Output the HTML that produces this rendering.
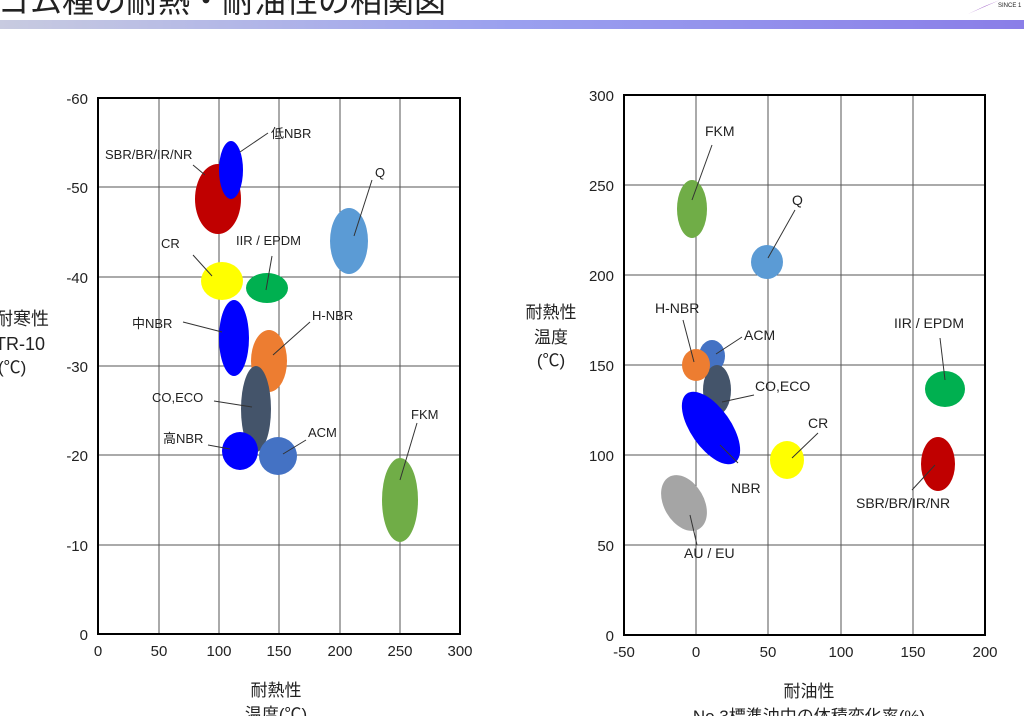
<!DOCTYPE html>
<html><head><meta charset="utf-8"><style>
body{margin:0;width:1024px;height:716px;overflow:hidden;background:#fff}
svg{display:block}
text{font-family:"Liberation Sans","Noto Sans CJK JP",sans-serif;fill:#222}
</style></head><body>
<svg width="1024" height="716" viewBox="0 0 1024 716">
<defs><linearGradient id="g" x1="0" x2="1"><stop offset="0" stop-color="#c8cbe0"/><stop offset="0.5" stop-color="#9aa0ef"/><stop offset="1" stop-color="#8a7ee8"/></linearGradient></defs>
<text x="-2" y="12" font-size="32">ゴム種の耐熱・耐油性の相関図</text>
<rect x="0" y="20" width="1024" height="9" fill="url(#g)"/>
<path d="M968 14 L1000 0 L985 6Z" fill="#a060c8"/>
<text x="998" y="7" font-size="6">SINCE 1</text>

<!-- left chart -->
<g stroke="#555" stroke-width="1">
<line x1="159" y1="98" x2="159" y2="634"/><line x1="219" y1="98" x2="219" y2="634"/><line x1="279" y1="98" x2="279" y2="634"/><line x1="340" y1="98" x2="340" y2="634"/><line x1="400" y1="98" x2="400" y2="634"/>
<line x1="98" y1="187" x2="460" y2="187"/><line x1="98" y1="277" x2="460" y2="277"/><line x1="98" y1="366" x2="460" y2="366"/><line x1="98" y1="455" x2="460" y2="455"/><line x1="98" y1="545" x2="460" y2="545"/>
</g>
<rect x="98" y="98" width="362" height="536" fill="none" stroke="#000" stroke-width="2"/>
<g font-size="15" text-anchor="end">
<text x="88" y="104">-60</text><text x="88" y="193">-50</text><text x="88" y="283">-40</text><text x="88" y="372">-30</text><text x="88" y="461">-20</text><text x="88" y="551">-10</text><text x="88" y="640">0</text>
</g>
<g font-size="15" text-anchor="middle">
<text x="98" y="656">0</text><text x="159" y="656">50</text><text x="219" y="656">100</text><text x="279" y="656">150</text><text x="340" y="656">200</text><text x="400" y="656">250</text><text x="460" y="656">300</text>
<text x="276" y="696" font-size="17">耐熱性</text><text x="276" y="720" font-size="17">温度(℃)</text>
</g>
<text x="-5" y="325" font-size="18">耐寒性</text><text x="-5" y="350" font-size="18">TR-10</text><text x="-2" y="373" font-size="17">(℃)</text>

<ellipse cx="218" cy="199" rx="23" ry="35" fill="#c00000"/>
<ellipse cx="231" cy="170" rx="12" ry="29" fill="#0000ff"/>
<ellipse cx="349" cy="241" rx="19" ry="33" fill="#5b9bd5"/>
<ellipse cx="222" cy="281" rx="21" ry="19" fill="#ffff00"/>
<ellipse cx="267" cy="288" rx="21" ry="15" fill="#00b050"/>
<ellipse cx="234" cy="338" rx="15" ry="38" fill="#0000ff"/>
<ellipse cx="269" cy="361" rx="18" ry="31" fill="#ed7d31"/>
<ellipse cx="256" cy="409" rx="15" ry="43" fill="#44546a"/>
<ellipse cx="240" cy="451" rx="18" ry="19" fill="#0000ff"/>
<ellipse cx="278" cy="456" rx="19" ry="19" fill="#4472c4"/>
<ellipse cx="400" cy="500" rx="18" ry="42" fill="#70ad47"/>
<g stroke="#333" stroke-width="1">
<line x1="240" y1="152" x2="268" y2="133"/><line x1="193" y1="165" x2="205" y2="175"/><line x1="372" y1="180" x2="354" y2="236"/><line x1="193" y1="255" x2="212" y2="276"/><line x1="272" y1="256" x2="266" y2="290"/><line x1="183" y1="322" x2="222" y2="332"/><line x1="310" y1="322" x2="273" y2="355"/><line x1="214" y1="401" x2="252" y2="407"/><line x1="208" y1="445" x2="230" y2="449"/><line x1="306" y1="440" x2="283" y2="454"/><line x1="417" y1="423" x2="400" y2="480"/>
</g>
<g font-size="13">
<text x="271" y="138">低NBR</text><text x="105" y="159">SBR/BR/IR/NR</text><text x="375" y="177">Q</text><text x="161" y="248">CR</text><text x="236" y="245">IIR / EPDM</text><text x="132" y="328">中NBR</text><text x="312" y="320">H-NBR</text><text x="152" y="402">CO,ECO</text><text x="163" y="443">高NBR</text><text x="308" y="437">ACM</text><text x="411" y="419">FKM</text>
</g>

<!-- right chart -->
<g stroke="#555" stroke-width="1">
<line x1="696" y1="95" x2="696" y2="635"/><line x1="768" y1="95" x2="768" y2="635"/><line x1="841" y1="95" x2="841" y2="635"/><line x1="913" y1="95" x2="913" y2="635"/>
<line x1="624" y1="185" x2="985" y2="185"/><line x1="624" y1="275" x2="985" y2="275"/><line x1="624" y1="365" x2="985" y2="365"/><line x1="624" y1="455" x2="985" y2="455"/><line x1="624" y1="545" x2="985" y2="545"/>
</g>
<rect x="624" y="95" width="361" height="540" fill="none" stroke="#000" stroke-width="2"/>
<g font-size="15" text-anchor="end">
<text x="614" y="101">300</text><text x="614" y="191">250</text><text x="614" y="281">200</text><text x="614" y="371">150</text><text x="614" y="461">100</text><text x="614" y="551">50</text><text x="614" y="641">0</text>
</g>
<g font-size="15" text-anchor="middle">
<text x="624" y="657">-50</text><text x="696" y="657">0</text><text x="768" y="657">50</text><text x="841" y="657">100</text><text x="913" y="657">150</text><text x="985" y="657">200</text>
<text x="809" y="697" font-size="17">耐油性</text><text x="809" y="722" font-size="17">No.3標準油中の体積変化率(%)</text>
<text x="551" y="318" font-size="17">耐熱性</text><text x="551" y="343" font-size="17">温度</text><text x="551" y="366" font-size="17">(℃)</text>
</g>
<ellipse cx="692" cy="209" rx="15" ry="29" fill="#70ad47"/>
<ellipse cx="767" cy="262" rx="16" ry="17" fill="#5b9bd5"/>
<ellipse cx="712" cy="356" rx="13" ry="16" fill="#4472c4"/>
<ellipse cx="717" cy="390" rx="14" ry="25" fill="#44546a"/>
<ellipse cx="696" cy="365" rx="14" ry="16" fill="#ed7d31"/>
<ellipse cx="711" cy="428" rx="20" ry="42" fill="#0000ff" transform="rotate(-35 711 428)"/>
<ellipse cx="787" cy="460" rx="17" ry="19" fill="#ffff00"/>
<ellipse cx="945" cy="389" rx="20" ry="18" fill="#00b050"/>
<ellipse cx="938" cy="464" rx="17" ry="27" fill="#c00000"/>
<ellipse cx="684" cy="503" rx="20" ry="30" fill="#a5a5a5" transform="rotate(-30 684 503)"/>
<g stroke="#333" stroke-width="1">
<line x1="712" y1="145" x2="692" y2="200"/><line x1="795" y1="210" x2="768" y2="258"/><line x1="683" y1="320" x2="694" y2="362"/><line x1="742" y1="337" x2="716" y2="354"/><line x1="754" y1="395" x2="722" y2="402"/><line x1="738" y1="463" x2="720" y2="445"/><line x1="818" y1="433" x2="792" y2="458"/><line x1="940" y1="338" x2="945" y2="380"/><line x1="912" y1="490" x2="935" y2="465"/><line x1="697" y1="545" x2="690" y2="515"/>
</g>
<g font-size="14">
<text x="705" y="136">FKM</text><text x="792" y="205">Q</text><text x="655" y="313">H-NBR</text><text x="744" y="340">ACM</text><text x="755" y="391">CO,ECO</text><text x="731" y="493">NBR</text><text x="808" y="428">CR</text><text x="894" y="328">IIR / EPDM</text><text x="856" y="508">SBR/BR/IR/NR</text><text x="684" y="558">AU / EU</text>
</g>
</svg>
</body></html>
